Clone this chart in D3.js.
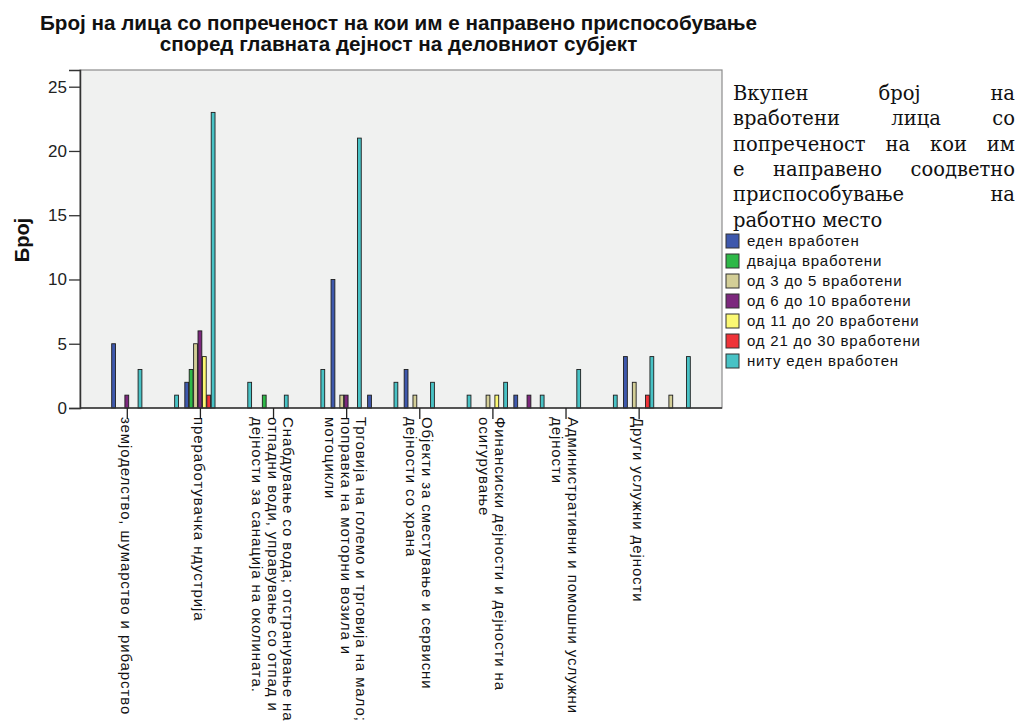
<!DOCTYPE html>
<html><head><meta charset="utf-8">
<script src="https://cdn.jsdelivr.net/npm/d3@7"></script>
<style>
html,body{margin:0;padding:0;background:#fff;}
svg{display:block;}
</style></head>
<body>
<svg id="chart" width="1021" height="726"></svg>
<script>
const titleLines = ["Број на лица со попреченост на кои им е направено приспособување",
                    "според главната дејност на деловниот субјект"];
const yTitle = "Број";
// 16 category slots; only every second one carries a visible label in the original
const categories = [
  "земјоделство, шумарство и рибарство", null,
  "преработувачка ндустрија", null,
  "Снабдување со вода; отстранување на|отпадни води, управување со отпад и|дејности за санација на околината.", null,
  "Трговија на големо и трговија на мало;|поправка на моторни возила и|мотоцикли", null,
  "Објекти за сместување и сервисни|дејности со храна", null,
  "Финансиски дејности и дејности на|осигурување", null,
  "Административни и помошни услужни|дејности", null,
  "Други услужни дејности", null
];
const seriesNames = ["еден вработен","двајца вработени","од 3 до 5 вработени","од 6 до 10 вработени",
                     "од 11 до 20 вработени","од 21 до 30 вработени","ниту еден вработен"];
const seriesColors = ["#3e58ac","#2eb848","#d3ce97","#7c287d","#fbf873","#ef3338","#48c2c5"];
const edenVraboten     = [5,0,2,0,0,0,10,1,3,0,0,1,0,0,4,0];
const dvajcaVraboteni  = [0,0,3,0,1,0,0,0,0,0,0,0,0,0,0,0];
const od3do5           = [0,0,5,0,0,0,1,0,1,0,1,0,0,0,2,1];
const od6do10          = [1,0,6,0,0,0,1,0,0,0,0,1,0,0,0,0];
const od11do20         = [0,0,4,0,0,0,0,0,0,0,1,0,0,0,0,0];
const od21do30         = [0,0,1,0,0,0,0,0,0,0,0,0,0,0,1,0];
const nituEden         = [3,1,23,2,1,3,21,2,2,1,2,1,3,1,4,4];
const seriesValues = [edenVraboten,dvajcaVraboteni,od3do5,od6do10,od11do20,od21do30,nituEden];
const yTicks = [0,5,10,15,20,25];
const legendTitleLines = [["Вкупен","број","на"],["вработени","лица","со"],["попреченост","на","кои","им"],
                          ["е","направено","соодветно"],["приспособување","на"],["работно","место"]];

const svg = d3.select("#chart");
const P = {l:80, r:722, t:70, b:408};
const SANS = "Liberation Sans, Arial, sans-serif";

// title: first line fitted to the reference width, second scaled by same factor
const tt = svg.selectAll("text.title").data(titleLines).join("text")
  .attr("class","title")
  .attr("x",398.5).attr("y",(d,i)=>30+i*21)
  .attr("text-anchor","middle")
  .style("font-family","Liberation Sans Narrow, Liberation Sans, Arial, sans-serif")
  .style("font-weight","bold").style("font-size","21px").attr("fill","#111")
  .text(d=>d);
const tw = tt.nodes().map(n=>n.getComputedTextLength());
const tf = 717/tw[0];
tt.attr("textLength",(d,i)=>tw[i]*tf).attr("lengthAdjust","spacingAndGlyphs");

// plot background
svg.append("rect").attr("x",P.l).attr("y",P.t).attr("width",P.r-P.l).attr("height",P.b-P.t)
  .attr("fill","#f0f1f0").attr("stroke","#8c8c8c").attr("stroke-width",1.2);

const x = d3.scalePoint().domain(d3.range(categories.length)).range([P.l,P.r]).padding(1.28);
const xs = d3.scaleBand().domain(d3.range(seriesNames.length)).range([-15.4,15.4]);
const y = d3.scaleLinear().domain([0, 25*(P.b-P.t)/(P.b-86.7)]).range([P.b,P.t]);

// bars
const bars = [];
seriesValues.forEach((vals,s)=>vals.forEach((v,c)=>{ if(v>0) bars.push({s,c,v}); }));
svg.append("g").selectAll("rect").data(bars).join("rect")
  .attr("x",d=>x(d.c)+xs(d.s)+0.3)
  .attr("width",xs.bandwidth()-0.6)
  .attr("y",d=>y(d.v))
  .attr("height",d=>y(0)-y(d.v))
  .attr("fill",d=>seriesColors[d.s])
  .attr("stroke","#1e1e1e").attr("stroke-width",0.9);

// y axis
const ya = svg.append("g").attr("transform",`translate(${P.l},0)`)
  .call(d3.axisLeft(y).tickValues(yTicks).tickSize(11).tickPadding(2));
ya.select(".domain").attr("stroke","#333").attr("stroke-width",1.5);
ya.selectAll(".tick line").attr("stroke","#333").attr("stroke-width",1.3);
ya.selectAll(".tick text").style("font-family",SANS)
  .style("font-size","17px").attr("fill","#222");

svg.append("text").attr("transform","translate(29,240) rotate(-90)")
  .attr("text-anchor","middle")
  .style("font-family",SANS)
  .style("font-weight","bold").style("font-size","20px").attr("fill","#111").text(yTitle);

// x axis
const labelled = d3.range(categories.length).filter(i=>categories[i]);
const xa = svg.append("g").attr("transform",`translate(0,${P.b})`)
  .call(d3.axisBottom(x).tickValues(labelled).tickSize(11).tickFormat(""));
xa.select(".domain").attr("stroke","#333").attr("stroke-width",1.5).attr("d",`M${P.l},0H${P.r}`);
xa.selectAll(".tick line").attr("stroke","#222").attr("stroke-width",1.3);

const lh = 15.5;
const lab = svg.append("g").selectAll("text").data(labelled).join("text")
  .attr("transform",d=>`translate(${x(d)},417) rotate(90)`)
  .style("font-family",SANS).style("font-size","15px").style("letter-spacing","0.9px").attr("fill","#111");
lab.each(function(d){
  const lines = categories[d].split("|");
  const n = lines.length;
  d3.select(this).selectAll("tspan").data(lines).join("tspan")
    .attr("x",0).attr("y",(l,i)=>-(n-1)/2*lh + i*lh)
    .attr("dominant-baseline","central")
    .text(l=>l);
});

// legend title (justified)
const LX0 = 733, LX1 = 1015;
const lt = svg.append("g").style("font-family","DejaVu Serif, serif").style("font-size","19.5px").attr("fill","#111");
legendTitleLines.forEach((words,li)=>{
  const yy = 100 + li*25.3;
  const ts = words.map(w=>lt.append("text").attr("y",yy).text(w));
  const widths = ts.map(t=>t.node().getComputedTextLength());
  const last = li===legendTitleLines.length-1;
  let gap;
  if(last){ gap = 6; } else { gap = (LX1-LX0-d3.sum(widths))/(words.length-1); }
  let cx = LX0;
  ts.forEach((t,i)=>{ t.attr("x",cx); cx += widths[i]+gap; });
});

// legend items
const li = svg.append("g").selectAll("g").data(seriesNames).join("g")
  .attr("transform",(d,i)=>`translate(726,${234+i*20})`);
li.append("rect").attr("width",13).attr("height",14)
  .attr("fill",(d,i)=>seriesColors[i]).attr("stroke","#333").attr("stroke-width",1);
li.append("text").attr("x",21).attr("y",12)
  .style("font-family",SANS).style("font-size","15px").style("letter-spacing","0.8px").attr("fill","#111")
  .text(d=>d);
</script>
</body></html>
